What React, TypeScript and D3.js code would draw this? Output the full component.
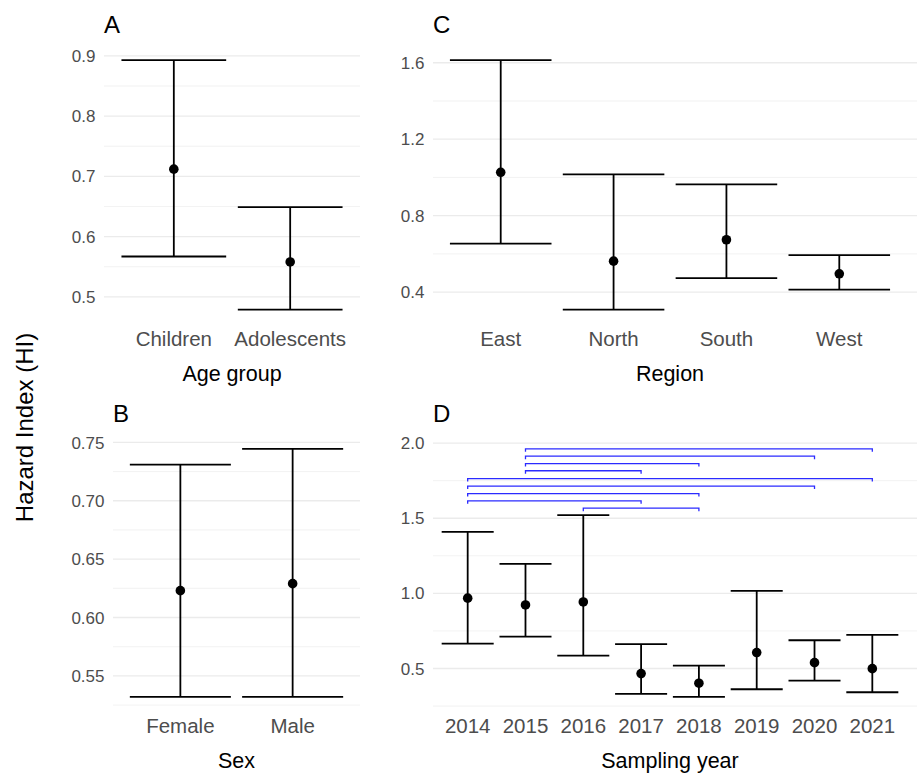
import React from 'react';
import * as d3 from 'd3';

const width = 918;
const height = 773;
const font = "'Liberation Sans', Arial, sans-serif";

// A: age group
const ageGroups = ['Children', 'Adolescents'];
const ageMean = [0.712, 0.558];
const ageLower = [0.567, 0.479];
const ageUpper = [0.893, 0.649];
const ageTicks = [0.5, 0.6, 0.7, 0.8, 0.9];

// B: sex
const sexes = ['Female', 'Male'];
const sexMean = [0.623, 0.629];
const sexLower = [0.532, 0.532];
const sexUpper = [0.731, 0.7445];
const sexTicks = [0.55, 0.6, 0.65, 0.7, 0.75];

// C: region
const regions = ['East', 'North', 'South', 'West'];
const regionMean = [1.027, 0.562, 0.674, 0.496];
const regionLower = [0.654, 0.309, 0.473, 0.413];
const regionUpper = [1.614, 1.016, 0.964, 0.594];
const regionTicks = [0.4, 0.8, 1.2, 1.6];

// D: sampling year
const years = ['2014', '2015', '2016', '2017', '2018', '2019', '2020', '2021'];
const yearMean = [0.968, 0.923, 0.943, 0.466, 0.402, 0.606, 0.539, 0.499];
const yearLower = [0.666, 0.712, 0.586, 0.331, 0.311, 0.362, 0.419, 0.342];
const yearUpper = [1.409, 1.196, 1.521, 0.662, 0.519, 1.017, 0.688, 0.724];
const yearTicks = [0.5, 1.0, 1.5, 2.0];

// significance brackets in D
const bracketFrom = ['2015', '2015', '2015', '2015', '2014', '2014', '2014', '2014', '2016'];
const bracketTo = ['2021', '2020', '2018', '2017', '2021', '2020', '2018', '2017', '2018'];
const bracketY = [1.962, 1.913, 1.864, 1.816, 1.764, 1.714, 1.664, 1.616, 1.567];

const topRow = [47.6, 322];
const bottomRow = [436.4, 709.3];

const Panel = ({ letter, title, cats, mean, lower, upper, ticks, decimals, left, right, gridRight, rows, extra = [], children }) => {
  const all = [...lower, ...upper, ...extra];
  const lo = d3.min(all);
  const hi = d3.max(all);
  const pad = (hi - lo) * 0.05;
  const y = d3.scaleLinear().domain([lo - pad, hi + pad]).range([rows[1], rows[0]]);
  const x = d3.scalePoint().domain(cats).range([left, right]).padding(0.6);
  const half = x.step() * 0.45;
  const tickStep = ticks[1] - ticks[0];
  const minors = [ticks[0] - tickStep / 2, ...ticks.map(t => t + tickStep / 2)]
    .filter(v => v >= y.domain()[0] && v <= y.domain()[1]);
  const fmt = d3.format(`.${decimals}f`);

  return (
    <g>
      {minors.map(v => (
        <line key={'m' + v} x1={left} x2={gridRight} y1={y(v)} y2={y(v)} stroke="#EDEDED" strokeWidth={0.7} />
      ))}
      {ticks.map(v => (
        <line key={'g' + v} x1={left} x2={gridRight} y1={y(v)} y2={y(v)} stroke="#EBEBEB" strokeWidth={1.3} />
      ))}
      {ticks.map(v => (
        <text key={'t' + v} x={left - 8.5} y={y(v)} dy="0.36em" textAnchor="end" fontSize={17} fill="#4D4D4D">
          {fmt(v)}
        </text>
      ))}
      {cats.map((c, i) => (
        <g key={c}>
          <line x1={x(c)} x2={x(c)} y1={y(lower[i])} y2={y(upper[i])} stroke="black" strokeWidth={1.8} />
          <line x1={x(c) - half} x2={x(c) + half} y1={y(lower[i])} y2={y(lower[i])} stroke="black" strokeWidth={1.8} />
          <line x1={x(c) - half} x2={x(c) + half} y1={y(upper[i])} y2={y(upper[i])} stroke="black" strokeWidth={1.8} />
          <circle cx={x(c)} cy={y(mean[i])} r={4.8} fill="black" />
          <text x={x(c)} y={rows[1] + 24} textAnchor="middle" fontSize={20.5} fill="#4D4D4D">{c}</text>
        </g>
      ))}
      {children && children(x, y)}
      <text x={(left + right) / 2} y={rows[1] + 58.5} textAnchor="middle" fontSize={21.5} fill="black">{title}</text>
      <text x={left} y={rows[0] - 14.3} fontSize={24} fill="black">{letter}</text>
    </g>
  );
};

const Brackets = ({ x, y }) => (
  <g>
    {bracketY.map((v, i) => {
      const x1 = x(bracketFrom[i]);
      const x2 = x(bracketTo[i]);
      const yy = y(v);
      return (
        <path
          key={i}
          d={`M${x1},${yy + 3}V${yy}H${x2}V${yy + 3}`}
          fill="none"
          stroke="#2B2BFF"
          strokeWidth={1.3}
        />
      );
    })}
  </g>
);

const App = () => (
  <svg width={width} height={height} style={{ position: 'absolute', left: 0, top: 0, background: 'white' }} fontFamily={font}>
    <Panel letter="A" title="Age group" cats={ageGroups} mean={ageMean} lower={ageLower} upper={ageUpper}
      ticks={ageTicks} decimals={1} left={104} right={360} gridRight={360} rows={topRow} />
    <Panel letter="C" title="Region" cats={regions} mean={regionMean} lower={regionLower} upper={regionUpper}
      ticks={regionTicks} decimals={1} left={433} right={907} gridRight={917} rows={topRow} />
    <Panel letter="B" title="Sex" cats={sexes} mean={sexMean} lower={sexLower} upper={sexUpper}
      ticks={sexTicks} decimals={2} left={113} right={360} gridRight={360} rows={bottomRow} />
    <Panel letter="D" title="Sampling year" cats={years} mean={yearMean} lower={yearLower} upper={yearUpper}
      ticks={yearTicks} decimals={1} left={433} right={907} gridRight={917} rows={bottomRow} extra={bracketY}>
      {(x, y) => <Brackets x={x} y={y} />}
    </Panel>
    <text transform="translate(33,427.5) rotate(-90)" textAnchor="middle" fontSize={24} fill="black">
      Hazard Index (HI)
    </text>
  </svg>
);

export default App;
